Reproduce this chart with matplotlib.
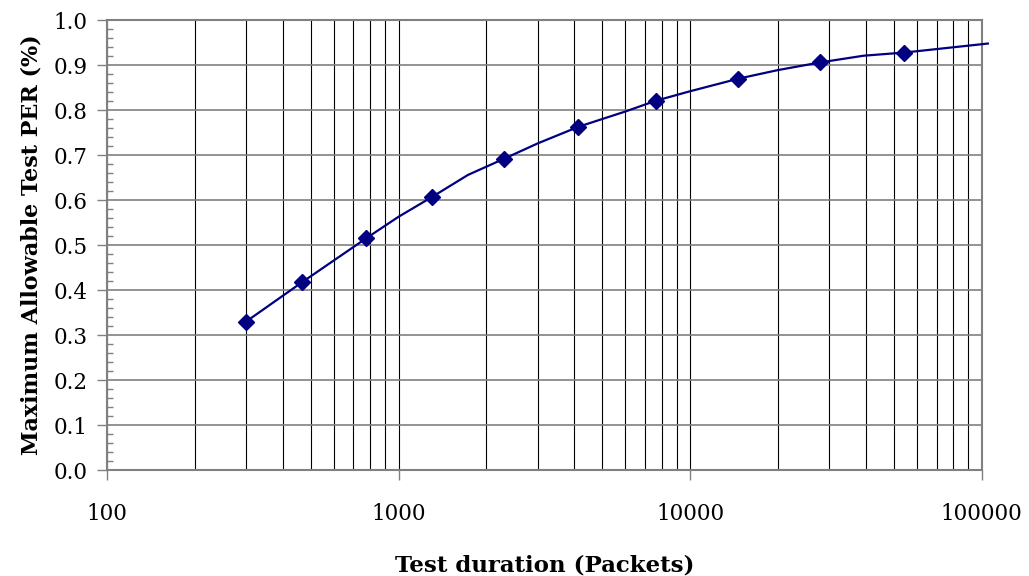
import numpy as np
import matplotlib.pyplot as plt
from matplotlib.ticker import FixedLocator, MultipleLocator, NullFormatter

# measured points (diamond markers)
packets = [300, 468, 774, 1303, 2302, 4140, 7640, 14650, 27870, 54300]
per = [0.33, 0.418, 0.515, 0.607, 0.692, 0.763, 0.821, 0.870, 0.906, 0.928]

# smooth curve drawn through the points (extra vertices read from the bends)
curve_x = [300, 468, 774, 1000, 1303, 1730, 2302, 3000, 4140, 6000, 7640,
           10000, 14650, 20000, 27870, 39400, 54300, 105000]
curve_y = [0.33, 0.418, 0.515, 0.563, 0.607, 0.656, 0.692, 0.726, 0.763, 0.797,
           0.821, 0.842, 0.870, 0.889, 0.906, 0.921, 0.928, 0.948]

xticks = [100, 1000, 10000, 100000]
xticklabels = ['100', '1000', '10000', '100000']

plt.rcParams['font.family'] = ['DejaVu Serif']

fig = plt.figure(figsize=(10.29, 5.76), dpi=100)
ax = fig.add_axes([0.104, 0.184, 0.850, 0.781])

ax.set_xscale('log')
ax.set_xlim(100, 100000)
ax.set_ylim(0, 1.0)

# grid: vertical at every 1..9 multiple, horizontal every 0.1
minor_x = [m * 10**e for e in range(2, 5) for m in range(2, 10)]
for v in minor_x + xticks:
    ax.axvline(v, color='black', lw=0.8, zorder=1)
for h in np.arange(0.1, 1.0, 0.1):
    ax.axhline(h, color='#808080', lw=1.2, zorder=1)

ax.plot(curve_x, curve_y, color='#000080', lw=1.6, zorder=3, clip_on=False)
ax.plot(packets, per, linestyle='none', marker='D', color='#000080',
        markersize=8, zorder=4)

ax.xaxis.set_major_locator(FixedLocator(xticks))
ax.set_xticklabels(xticklabels)
ax.xaxis.set_minor_formatter(NullFormatter())
ax.xaxis.set_minor_locator(FixedLocator([]))
ax.yaxis.set_major_locator(MultipleLocator(0.1))
ax.yaxis.set_minor_locator(MultipleLocator(0.02))
ax.yaxis.set_major_formatter(plt.FuncFormatter(lambda v, p: '%.1f' % v))

ax.tick_params(axis='x', which='major', direction='out', length=7, width=1,
               color='#808080', pad=17, labelsize=15.5)
ax.tick_params(axis='y', which='major', direction='out', length=7, width=1,
               color='#808080', pad=7, labelsize=15.5)
ax.tick_params(axis='y', which='minor', direction='in', length=4.5, width=1,
               color='#808080')

for s in ax.spines.values():
    s.set_color('#808080')
    s.set_linewidth(1.5)

ax.set_xlabel('Test duration (Packets)', fontsize=16.5, fontweight='bold',
              labelpad=21)
ax.set_ylabel('Maximum Allowable Test PER (%)', fontsize=16, fontweight='bold',
              labelpad=8)

fig.savefig('out.png', dpi=100)
